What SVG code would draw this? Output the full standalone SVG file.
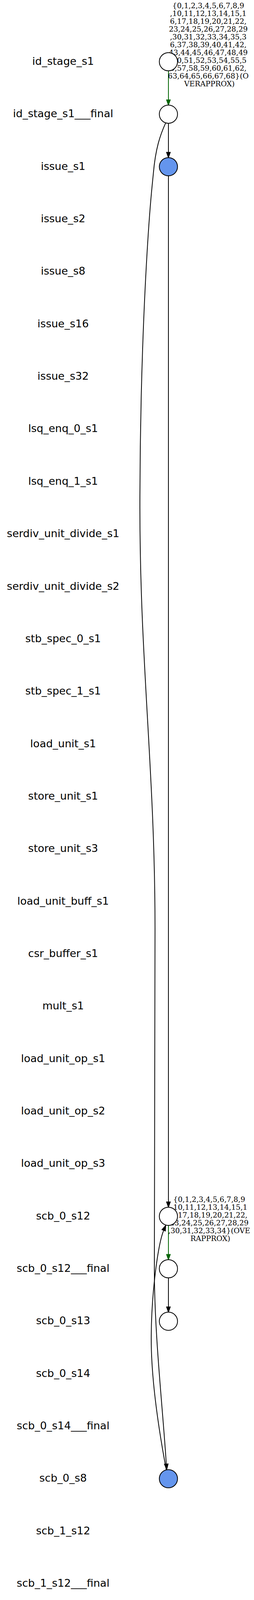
<svg xmlns="http://www.w3.org/2000/svg" width="650" height="6636" viewBox="0 0 650 6636">
<style>
.lbl{font-family:"DejaVu Sans","Liberation Sans",sans-serif;font-size:27px;text-anchor:middle;fill:#000}
.elbl{font-family:"DejaVu Serif","Liberation Serif",serif;font-size:18.67px;text-anchor:middle;fill:#000}
.nd{fill:#fff;stroke:#000;stroke-width:2}
.blue{fill:#6495ED}
.e{fill:none;stroke:#000;stroke-width:2}
.eg{fill:none;stroke:#006400;stroke-width:2}
.ah{fill:#000;stroke:#000;stroke-width:2;stroke-linejoin:miter}
.ahg{fill:#006400;stroke:#006400;stroke-width:2;stroke-linejoin:miter}
</style>
<rect x="0" y="0" width="650" height="6636" fill="#fff"/>
<g id="labels">
<g id="n_id_stage_s1"><text class="lbl" x="161.5" y="166">id_stage_s1</text></g>
<g id="n_id_stage_s1___final"><text class="lbl" x="161.5" y="300.35">id_stage_s1___final</text></g>
<g id="n_issue_s1"><text class="lbl" x="161.5" y="434.7">issue_s1</text></g>
<g id="n_issue_s2"><text class="lbl" x="161.5" y="569.05">issue_s2</text></g>
<g id="n_issue_s8"><text class="lbl" x="161.5" y="703.4">issue_s8</text></g>
<g id="n_issue_s16"><text class="lbl" x="161.5" y="837.75">issue_s16</text></g>
<g id="n_issue_s32"><text class="lbl" x="161.5" y="972.1">issue_s32</text></g>
<g id="n_lsq_enq_0_s1"><text class="lbl" x="161.5" y="1106.45">lsq_enq_0_s1</text></g>
<g id="n_lsq_enq_1_s1"><text class="lbl" x="161.5" y="1240.8">lsq_enq_1_s1</text></g>
<g id="n_serdiv_unit_divide_s1"><text class="lbl" x="161.5" y="1375.15">serdiv_unit_divide_s1</text></g>
<g id="n_serdiv_unit_divide_s2"><text class="lbl" x="161.5" y="1509.5">serdiv_unit_divide_s2</text></g>
<g id="n_stb_spec_0_s1"><text class="lbl" x="161.5" y="1643.85">stb_spec_0_s1</text></g>
<g id="n_stb_spec_1_s1"><text class="lbl" x="161.5" y="1778.2">stb_spec_1_s1</text></g>
<g id="n_load_unit_s1"><text class="lbl" x="161.5" y="1912.55">load_unit_s1</text></g>
<g id="n_store_unit_s1"><text class="lbl" x="161.5" y="2046.9">store_unit_s1</text></g>
<g id="n_store_unit_s3"><text class="lbl" x="161.5" y="2181.25">store_unit_s3</text></g>
<g id="n_load_unit_buff_s1"><text class="lbl" x="161.5" y="2315.6">load_unit_buff_s1</text></g>
<g id="n_csr_buffer_s1"><text class="lbl" x="161.5" y="2449.95">csr_buffer_s1</text></g>
<g id="n_mult_s1"><text class="lbl" x="161.5" y="2584.3">mult_s1</text></g>
<g id="n_load_unit_op_s1"><text class="lbl" x="161.5" y="2718.65">load_unit_op_s1</text></g>
<g id="n_load_unit_op_s2"><text class="lbl" x="161.5" y="2853">load_unit_op_s2</text></g>
<g id="n_load_unit_op_s3"><text class="lbl" x="161.5" y="2987.35">load_unit_op_s3</text></g>
<g id="n_scb_0_s12"><text class="lbl" x="161.5" y="3121.7">scb_0_s12</text></g>
<g id="n_scb_0_s12___final"><text class="lbl" x="161.5" y="3256.05">scb_0_s12___final</text></g>
<g id="n_scb_0_s13"><text class="lbl" x="161.5" y="3390.4">scb_0_s13</text></g>
<g id="n_scb_0_s14"><text class="lbl" x="161.5" y="3524.75">scb_0_s14</text></g>
<g id="n_scb_0_s14___final"><text class="lbl" x="161.5" y="3659.1">scb_0_s14___final</text></g>
<g id="n_scb_0_s8"><text class="lbl" x="161.5" y="3793.45">scb_0_s8</text></g>
<g id="n_scb_1_s12"><text class="lbl" x="161.5" y="3927.8">scb_1_s12</text></g>
<g id="n_scb_1_s12___final"><text class="lbl" x="161.5" y="4062.15">scb_1_s12___final</text></g>
<g id="n_scb_1_s13"><text class="lbl" x="161.5" y="4196.5">scb_1_s13</text></g>
<g id="n_scb_1_s14"><text class="lbl" x="161.5" y="4330.85">scb_1_s14</text></g>
<g id="n_scb_1_s14___final"><text class="lbl" x="161.5" y="4465.2">scb_1_s14___final</text></g>
<g id="n_scb_1_s8"><text class="lbl" x="161.5" y="4599.55">scb_1_s8</text></g>
<g id="n_scb_2_s12"><text class="lbl" x="161.5" y="4733.9">scb_2_s12</text></g>
<g id="n_scb_2_s12___final"><text class="lbl" x="161.5" y="4868.25">scb_2_s12___final</text></g>
<g id="n_scb_2_s13"><text class="lbl" x="161.5" y="5002.6">scb_2_s13</text></g>
<g id="n_scb_2_s14"><text class="lbl" x="161.5" y="5136.95">scb_2_s14</text></g>
<g id="n_scb_2_s14___final"><text class="lbl" x="161.5" y="5271.3">scb_2_s14___final</text></g>
<g id="n_scb_2_s8"><text class="lbl" x="161.5" y="5405.65">scb_2_s8</text></g>
<g id="n_scb_3_s12"><text class="lbl" x="161.5" y="5540">scb_3_s12</text></g>
<g id="n_scb_3_s12___final"><text class="lbl" x="161.5" y="5674.35">scb_3_s12___final</text></g>
<g id="n_scb_3_s13"><text class="lbl" x="161.5" y="5808.7">scb_3_s13</text></g>
<g id="n_scb_3_s14"><text class="lbl" x="161.5" y="5943.05">scb_3_s14</text></g>
<g id="n_scb_3_s14___final"><text class="lbl" x="161.5" y="6077.4">scb_3_s14___final</text></g>
<g id="n_scb_3_s8"><text class="lbl" x="161.5" y="6211.75">scb_3_s8</text></g>
<g id="n_stb_com_0_s1"><text class="lbl" x="161.5" y="6346.1">stb_com_0_s1</text></g>
<g id="n_stb_com_1_s1"><text class="lbl" x="161.5" y="6480.45">stb_com_1_s1</text></g>
<g id="n_mem_req_s1"><text class="lbl" x="161.5" y="6614.8">mem_req_s1</text></g>
</g>
<g id="connectors">
<g id="e_id_stage_s1__final">
<path class="eg" d="M431,181.3 L431,255.75"/>
<polygon class="ahg" points="431,269.05 426.33,255.75 435.67,255.75"/>
<text class="elbl" x="536">
<tspan x="536" y="20.7">{0,1,2,3,4,5,6,7,8,9</tspan>
<tspan x="536" y="40.7">,10,11,12,13,14,15,1</tspan>
<tspan x="536" y="60.7">6,17,18,19,20,21,22,</tspan>
<tspan x="536" y="80.7">23,24,25,26,27,28,29</tspan>
<tspan x="536" y="100.7">,30,31,32,33,34,35,3</tspan>
<tspan x="536" y="120.7">6,37,38,39,40,41,42,</tspan>
<tspan x="536" y="140.7">43,44,45,46,47,48,49</tspan>
<tspan x="536" y="160.7">,50,51,52,53,54,55,5</tspan>
<tspan x="536" y="180.7">6,57,58,59,60,61,62,</tspan>
<tspan x="536" y="200.7">63,64,65,66,67,68}(O</tspan>
<tspan x="536" y="220.7">VERAPPROX)</tspan>
</text>
</g>
<g id="e_final__issue_s1">
<path class="e" d="M431,315.65 L431,390.1"/>
<polygon class="ah" points="431,403.4 426.33,390.1 435.67,390.1"/>
</g>
<g id="e_final__scb_0_s8">
<path class="e" d="M424,314.6 C410,345 398,380 392.5,443.4 C388,490 386,500 379.3,600 C369.4,750 358,1000 358,1300 C358,1700 397,1980 396.7,2380 L395,3250 C395,3420 418,3620 425.5,3748"/>
<polygon class="ah" points="426.7,3761.7 430.15,3747.6 420.85,3748.4"/>
</g>
<g id="e_issue_s1__scb_0_s12">
<path class="e" d="M431,450 L431,3077.1"/>
<polygon class="ah" points="431,3090.4 426.33,3077.1 435.67,3077.1"/>
</g>
<g id="e_scb_0_s12__final">
<path class="eg" d="M431,3137 L431,3211.45"/>
<polygon class="ahg" points="431,3224.75 426.33,3211.45 435.67,3211.45"/>
<text class="elbl" x="538.3">
<tspan x="538.3" y="3076.7">{0,1,2,3,4,5,6,7,8,9</tspan>
<tspan x="538.3" y="3096.7">,10,11,12,13,14,15,1</tspan>
<tspan x="538.3" y="3116.7">6,17,18,19,20,21,22,</tspan>
<tspan x="538.3" y="3136.7">23,24,25,26,27,28,29</tspan>
<tspan x="538.3" y="3156.7">,30,31,32,33,34}(OVE</tspan>
<tspan x="538.3" y="3176.7">RAPPROX)</tspan>
</text>
</g>
<g id="e_scb_0_s12_final__scb_0_s13">
<path class="e" d="M431,3271.35 L431,3345.8"/>
<polygon class="ah" points="431,3359.1 426.33,3345.8 435.67,3345.8"/>
</g>
<g id="e_scb_0_s8__scb_0_s12">
<path class="e" d="M425.5,3763 C410,3680 386,3540 387,3420 C388,3300 405.4,3182 418.9,3149.6"/>
<polygon class="ah" points="424,3137.3 423.2,3151.4 414.6,3147.8"/>
</g>
</g>
<g id="c_id_stage_s1"><circle class="nd" cx="431" cy="158" r="23.3"/></g>
<g id="c_id_stage_s1___final"><circle class="nd" cx="431" cy="292.35" r="23.3"/></g>
<g id="c_issue_s1"><circle class="nd blue" cx="431" cy="426.7" r="23.3"/></g>
<g id="c_scb_0_s12"><circle class="nd" cx="431" cy="3113.7" r="23.3"/></g>
<g id="c_scb_0_s12___final"><circle class="nd" cx="431" cy="3248.05" r="23.3"/></g>
<g id="c_scb_0_s13"><circle class="nd" cx="431" cy="3382.4" r="23.3"/></g>
<g id="c_scb_0_s8"><circle class="nd blue" cx="431" cy="3785.45" r="23.3"/></g>
</svg>
